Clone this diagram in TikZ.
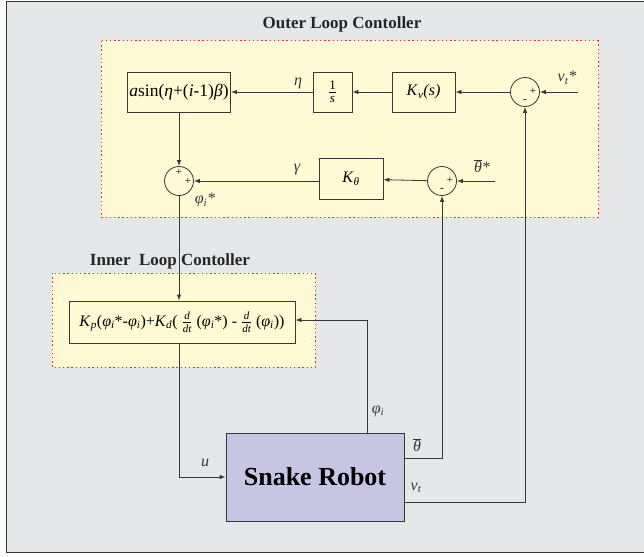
\documentclass[tikz,border=0pt]{standalone}
\usepackage{fontspec}
\setmainfont{Liberation Serif}
\usetikzlibrary{arrows.meta, positioning, calc}
\definecolor{panel}{RGB}{230,231,232}
\definecolor{loopc}{RGB}{255,250,212}
\definecolor{robotc}{RGB}{200,197,226}
\definecolor{edgec}{RGB}{55,55,55}
\definecolor{dotc}{RGB}{235,50,50}
\newcommand{\iv}[1]{\textit{#1}}
\newcommand{\sbi}[1]{\textsubscript{\textit{#1}}}
\newcommand{\ddt}{$\frac{\hbox{\fontsize{11}{12}\selectfont\itshape d}}{\hbox{\fontsize{11}{12}\selectfont\itshape dt}}$}
\newcommand{\thbar}{$\overline{\hbox{\itshape θ}}$}
\tikzset{
  blk/.style={draw=edgec, fill=#1, line width=0.8pt, minimum height=40pt,
              align=center, inner sep=2pt, font=\fontsize{16}{18}\selectfont},
  blk/.default=loopc,
  sumc/.style={draw=edgec, circle, line width=0.8pt, minimum size=29pt, inner sep=0pt},
  sgn/.style={font=\fontsize{11}{12}\selectfont, inner sep=0pt},
  sig/.style={-{Latex[length=6pt,width=4.5pt]}, draw=edgec, line width=0.8pt},
  loopbox/.style={draw=dotc, fill=loopc, line width=1pt,
                  dash pattern=on 1.4pt off 2.8pt},
  ttl/.style={font=\bfseries\fontsize{17}{19}\selectfont, text=black!85},
  lbl/.style={font=\itshape\fontsize{16}{18}\selectfont, text=edgec, inner sep=0pt},
}

\begin{document}
\begin{tikzpicture}[x=1pt, y=-1pt]
  \useasboundingbox (0,0) rectangle (644,556);
  \draw[edgec, fill=panel, line width=0.9pt] (6,1) rectangle (660,552);

  % controller areas
  \draw[loopbox] (101,41) rectangle (598,217);
  \draw[loopbox] (52,273) rectangle (315,367);
  \node[ttl] (outer) at (342,24) {Outer Loop Contoller};
  \node[ttl] (inner) at (170,261) {Inner\ \ Loop Contoller};

  % outer loop
  \node[blk, minimum width=102pt, font=\fontsize{17.5}{19}\selectfont] (asin) at (179,92)
    {\iv{a}sin(\iv{η}+(\iv{i}-1)\iv{β})};
  \node[blk, minimum width=39pt] (integ) at (332.5,92)
    {$\frac{\hbox{\fontsize{13}{14}\selectfont 1}}{\hbox{\fontsize{13}{14}\selectfont\itshape s}}$};
  \node[blk, minimum width=63pt] (kv) at (423.5,92) {\iv{K}\sbi{v}\iv{(s)}};
  \node[sumc] (s1) at (525,92) {};
  \coordinate (vin) at (578,92);

  \node[sumc] (s3) at (179,181) {};
  \node[blk, minimum width=64pt, minimum height=41pt] (kth) at (351,179) {\iv{K}\sbi{θ}};
  \node[sumc] (s2) at (442,181) {};
  \coordinate (thin) at (495,181);

  % signs
  \node[sgn] at ($(s1)+(8,-1)$) {+};
  \node[sgn] at ($(s1)+(0,9)$) {-};
  \node[sgn] at ($(s2)+(8,-1)$) {+};
  \node[sgn] at ($(s2)+(0,9)$) {-};
  \node[sgn] at ($(s3)+(0,-9)$) {+};
  \node[sgn] at ($(s3)+(9,0)$) {+};

  % inner loop and plant
  \node[blk, minimum width=226pt, minimum height=42pt, inner sep=1pt] (kp) at (182,322)
    {\iv{K}\sbi{p}(\iv{φ}\sbi{i}*-\iv{φ}\sbi{i})+\iv{K}\sbi{d}( \ddt\ (\iv{φ}\sbi{i}*) - \ddt\ (\iv{φ}\sbi{i}))};
  \node[blk=robotc, minimum width=178pt, minimum height=88pt,
        font=\bfseries\fontsize{26}{30}\selectfont] (robot) at (315,477) {Snake Robot};

  % signals
  \draw[sig] (vin) -- (s1);
  \draw[sig] (s1) -- (kv);
  \draw[sig] (kv) -- (integ);
  \draw[sig] (integ) -- (asin);
  \draw[sig] (asin) -- (s3);
  \draw[sig] (thin) -- (s2);
  \draw[sig] (s2) -- (kth);
  \draw[sig] (kth.west |- s3) -- (s3);
  \draw[sig] (s3.south) -- (s3.south |- kp.north);
  \draw[sig] (kp.south -| s3) |- (robot.west);
  \draw[sig] ($(robot.north)+(52,0)$) |- ($(kp.east)+(0,-2)$);
  \draw[sig] ($(robot.east)+(0,-19)$) -| (s2.south);
  \draw[sig] ($(robot.east)+(0,25)$) -| (s1.south);

  % labels
  \node[lbl] (eta) at (298,83) {η};
  \node[lbl] (gam) at (297,170) {γ};
  \node[lbl] (phis) at (205,200) {φ\textsubscript{i}*};
  \node[lbl] (vts) at (567,78) {v\textsubscript{t}*};
  \node[lbl] (ths) at (482,166) {\thbar*};
  \node[lbl] (ulbl) at (205,463) {u};
  \node[lbl] (phil) at (378,411) {φ\textsubscript{i}};
  \node[lbl] (thl) at (417,445) {\thbar};
  \node[lbl] (vtl) at (416,488) {v\textsubscript{t}};
\end{tikzpicture}
\end{document}
